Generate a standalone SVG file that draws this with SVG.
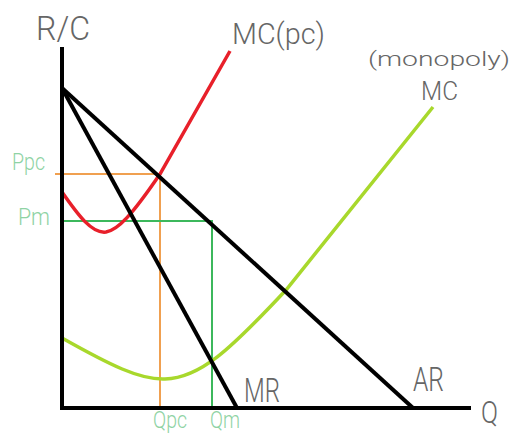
<svg xmlns="http://www.w3.org/2000/svg" width="516" height="435" viewBox="0 0 516 435">
<style>
.t{font-family:Roboto,"Liberation Sans",sans-serif;font-weight:300;fill:#666}
.g{font-family:Roboto,"Liberation Sans",sans-serif;font-weight:300;fill:#8fd3a4}
.k{stroke:#000;stroke-width:4;fill:none}
</style>
<rect width="516" height="435" fill="#fff"/>
<g id="guides">
<path d="M55,174 H160 V408" stroke="#f0a050" stroke-width="2" fill="none"/>
<path d="M62,221 H212 V408" stroke="#3cb85c" stroke-width="2" fill="none"/>
</g>
<g id="curves">
<path id="mcpc" d="M62,192 C78,215 92,234 106,232 C118,230 132,215 160,174 L230,51" stroke="#e8202a" stroke-width="3.5" fill="none"/>
<path id="mcm" d="M62,338 C110,365 140,380 165,379 C200,378 230,350 286,290 L433,107" stroke="#a8d82c" stroke-width="3.5" fill="none"/>
<path id="ar" class="k" d="M62,88 L413,408"/>
<path id="mr" class="k" d="M62,88 L237,408"/>
</g>
<g id="axes">
<path class="k" d="M62,47 V408 H471"/>
</g>
<g id="labels">
<text class="t" x="36" y="40" font-size="34" textLength="54" lengthAdjust="spacingAndGlyphs">R/C</text>
<text class="t" x="232" y="44" font-size="30" textLength="93" lengthAdjust="spacingAndGlyphs">MC(pc)</text>
<text class="t" x="368" y="66" font-size="20" textLength="142" lengthAdjust="spacingAndGlyphs">(monopoly)</text>
<text class="t" x="421" y="100" font-size="26" textLength="37" lengthAdjust="spacingAndGlyphs">MC</text>
<text class="t" x="244" y="402" font-size="34" textLength="36" lengthAdjust="spacingAndGlyphs">MR</text>
<text class="t" x="413" y="391" font-size="34" textLength="31" lengthAdjust="spacingAndGlyphs">AR</text>
<text class="t" x="481" y="423" font-size="32" textLength="17" lengthAdjust="spacingAndGlyphs">Q</text>
<text class="g" x="12" y="170" font-size="24" textLength="33" lengthAdjust="spacingAndGlyphs">Ppc</text>
<text class="g" x="18" y="225" font-size="24" textLength="32" lengthAdjust="spacingAndGlyphs">Pm</text>
<text class="g" x="153" y="428" font-size="24" textLength="34" lengthAdjust="spacingAndGlyphs">Qpc</text>
<text class="g" x="210" y="428" font-size="24" textLength="30" lengthAdjust="spacingAndGlyphs">Qm</text>
</g>
</svg>
